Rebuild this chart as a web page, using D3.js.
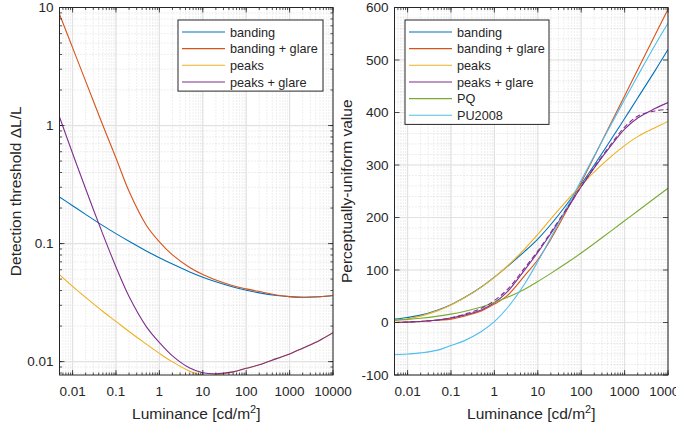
<!DOCTYPE html>
<html>
<head>
<meta charset="utf-8">
<script src="https://cdn.jsdelivr.net/npm/d3@7"></script>
<style>
  body { margin: 0; background: #fff; }
  svg text { font-family: "Liberation Sans", Arial, Helvetica, sans-serif; fill: #262626; }
</style>
</head>
<body>
<div id="chart"></div>
<script>
// Luminance samples [cd/m2] shared by every curve
const luminance = [0.005, 0.01, 0.02, 0.05, 0.1, 0.2, 0.5, 1, 2, 5, 10, 20, 50, 100, 200, 500, 1000, 2000, 5000, 10000];

// Left panel: detection threshold dL/L
const thrBanding      = [0.248, 0.2094, 0.1767, 0.1419, 0.1214, 0.1046, 0.0865, 0.0759, 0.067, 0.0575, 0.0519, 0.0474, 0.0428, 0.0403, 0.0382, 0.0363, 0.0355, 0.0351, 0.0354, 0.0363];
const thrBandingGlare = [8.77, 4.57, 2.38, 1.0, 0.531, 0.277, 0.143, 0.1035, 0.0802, 0.0627, 0.0546, 0.0491, 0.0439, 0.0413, 0.0392, 0.0367, 0.0355, 0.0351, 0.0354, 0.0363];
const thrPeaks        = [0.0546, 0.0434, 0.035, 0.0266, 0.0219, 0.018, 0.01406, 0.01175, 0.00995, 0.00828, 0.00762, 0.00772, 0.00818, 0.00877, 0.0094, 0.0106, 0.0116, 0.013, 0.0152, 0.0176];
const thrPeaksGlare   = [1.18, 0.582, 0.291, 0.1197, 0.0634, 0.0356, 0.0198, 0.0145, 0.01117, 0.00881, 0.00805, 0.00789, 0.00818, 0.00877, 0.0094, 0.0106, 0.0116, 0.013, 0.0152, 0.0176];

// Right panel: perceptually-uniform value
const puBanding       = [6.5, 9.5, 14, 24, 34, 47, 67.7, 86.4, 106.9, 135.6, 159, 186.7, 228.5, 263, 299.8, 350, 388.5, 427.6, 479.3, 520];
const puBandingGlare  = [0, 0.8, 2, 4.5, 6.5, 12, 22, 35, 51.6, 89.4, 119.5, 158.6, 218.3, 266.5, 316.2, 381.9, 431.6, 481.3, 547, 596.7];
const puPeaks         = [3.5, 7.1, 12.2, 22.6, 33.4, 46.6, 67.3, 86, 107.6, 140.2, 167.9, 197.4, 235.2, 260.8, 287, 317, 337, 354, 371, 383];
const puPeaksGlare    = [0, 0.8, 2, 4.8, 8.5, 14, 24, 37.5, 58.6, 100.4, 133.5, 169.6, 219.4, 258.5, 294.6, 338.4, 368.5, 389.6, 407.5, 419];
const puPeaksGlareFit = [0, 0.8, 2, 4.8, 9, 15.5, 27, 42, 63, 104, 136, 172, 221, 259, 296, 341, 372, 393, 403, 406];
const puPQ            = [4.5, 6, 8.1, 12.1, 16, 21.1, 29.5, 38, 48, 63.5, 78, 93.6, 115.1, 132.3, 150.4, 175.1, 193.7, 212.4, 237.1, 255.8];
const puPU2008        = [-61.5, -60, -57.8, -52.6, -44, -35, -17.1, 1.6, 28.1, 73.9, 116, 161.8, 223.9, 270.9, 317.5, 378.8, 424.6, 469.7, 528.2, 570];

// Tick values and labels
const xTicks = [0.01, 0.1, 1, 10, 100, 1000, 10000];
const xTickLabels = ['0.01', '0.1', '1', '10', '100', '1000', '10000'];
const yTicksLeft = [0.01, 0.1, 1, 10];
const yTickLabelsLeft = ['0.01', '0.1', '1', '10'];
const yTicksRight = [-100, 0, 100, 200, 300, 400, 500, 600];

// MATLAB default colours
const cBlue = '#0072BD', cRed = '#D95319', cYellow = '#EDB120', cPurple = '#7E2F8E', cGreen = '#77AC30', cCyan = '#4DBEEE';

const width = 676, height = 430;
const axisColor = '#262626';

const svg = d3.select('#chart').append('svg')
    .attr('width', width)
    .attr('height', height);

// log minor positions (1..9 per decade) inside a domain
function logMinor(domain) {
    const out = [];
    for (let e = Math.floor(Math.log10(domain[0])); e <= Math.ceil(Math.log10(domain[1])); e++) {
        for (let m = 1; m <= 9; m++) {
            const v = m * Math.pow(10, e);
            if (v >= domain[0] * 0.999 && v <= domain[1] * 1.001) out.push(v);
        }
    }
    return out;
}

function drawPanel(opt) {
    const g = svg.append('g');
    const x = d3.scaleLog().domain([0.005, 10000]).range([opt.x0, opt.x1]);
    const y = opt.logY
        ? d3.scaleLog().domain(opt.yDomain).range([opt.y1, opt.y0])
        : d3.scaleLinear().domain(opt.yDomain).range([opt.y1, opt.y0]);

    const xMinor = logMinor(x.domain());
    const yMinor = opt.logY ? logMinor(y.domain()) : d3.range(-100, 601, 20);

    // minor grid (dotted)
    g.selectAll('.xminor').data(xMinor).enter().append('line')
        .attr('x1', d => x(d)).attr('x2', d => x(d))
        .attr('y1', opt.y0).attr('y2', opt.y1)
        .attr('stroke', '#c8c8c8').attr('stroke-width', 0.6).attr('stroke-dasharray', '1,2');
    g.selectAll('.yminor').data(yMinor).enter().append('line')
        .attr('x1', opt.x0).attr('x2', opt.x1)
        .attr('y1', d => y(d)).attr('y2', d => y(d))
        .attr('stroke', '#c8c8c8').attr('stroke-width', 0.6).attr('stroke-dasharray', '1,2');

    // major grid
    g.selectAll('.xmajor').data(xTicks).enter().append('line')
        .attr('x1', d => x(d)).attr('x2', d => x(d))
        .attr('y1', opt.y0).attr('y2', opt.y1)
        .attr('stroke', '#e2e2e2').attr('stroke-width', 1.2);
    g.selectAll('.ymajor').data(opt.yTicks).enter().append('line')
        .attr('x1', opt.x0).attr('x2', opt.x1)
        .attr('y1', d => y(d)).attr('y2', d => y(d))
        .attr('stroke', '#e2e2e2').attr('stroke-width', 1.2);

    // curves, clipped to the axes box
    const clipId = 'clip' + opt.id;
    svg.append('clipPath').attr('id', clipId).append('rect')
        .attr('x', opt.x0).attr('y', opt.y0)
        .attr('width', opt.x1 - opt.x0).attr('height', opt.y1 - opt.y0);

    const line = d3.line()
        .x(d => x(d[0]))
        .y(d => y(d[1]))
        .curve(d3.curveCatmullRom.alpha(0.5));

    g.append('g').attr('clip-path', `url(#${clipId})`)
        .selectAll('path')
        .data(opt.series)
        .enter()
        .append('path')
        .attr('d', s => line(luminance.map((l, i) => [l, s.values[i]])))
        .attr('fill', 'none')
        .attr('stroke', s => s.color)
        .attr('stroke-width', 1.1)
        .attr('stroke-dasharray', s => s.dash || null);

    // box
    g.append('rect')
        .attr('x', opt.x0).attr('y', opt.y0)
        .attr('width', opt.x1 - opt.x0).attr('height', opt.y1 - opt.y0)
        .attr('fill', 'none').attr('stroke', axisColor).attr('stroke-width', 1);

    // inward ticks on all four sides
    const tickLen = 5, minorLen = 2.5;
    const xt = xTicks.map(v => ({ v, len: tickLen })).concat(xMinor.map(v => ({ v, len: minorLen })));
    const yt = opt.yTicks.map(v => ({ v, len: tickLen }))
        .concat(opt.logY ? yMinor.map(v => ({ v, len: minorLen })) : []);
    [opt.y1, opt.y0].forEach((yy, k) => {
        g.selectAll('.xt' + k).data(xt).enter().append('line')
            .attr('x1', d => x(d.v)).attr('x2', d => x(d.v))
            .attr('y1', yy).attr('y2', d => k === 0 ? yy - d.len : yy + d.len)
            .attr('stroke', axisColor).attr('stroke-width', 0.8);
    });
    [opt.x0, opt.x1].forEach((xx, k) => {
        g.selectAll('.yt' + k).data(yt).enter().append('line')
            .attr('y1', d => y(d.v)).attr('y2', d => y(d.v))
            .attr('x1', xx).attr('x2', d => k === 0 ? xx + d.len : xx - d.len)
            .attr('stroke', axisColor).attr('stroke-width', 0.8);
    });

    // tick labels
    g.selectAll('.xlab').data(xTicks).enter().append('text')
        .attr('x', d => x(d)).attr('y', opt.y1 + 21)
        .attr('text-anchor', 'middle')
        .style('font-size', '13.5px')
        .text((d, i) => xTickLabels[i]);
    g.selectAll('.ylab').data(opt.yTicks).enter().append('text')
        .attr('x', opt.x0 - 6).attr('y', d => y(d))
        .attr('dy', '0.36em')
        .attr('text-anchor', 'end')
        .style('font-size', '13.5px')
        .text((d, i) => opt.yTickLabels[i]);

    // axis labels
    const xl = g.append('text')
        .attr('x', (opt.x0 + opt.x1) / 2).attr('y', 419)
        .attr('text-anchor', 'middle')
        .style('font-size', '15.5px');
    xl.append('tspan').text('Luminance [cd/m');
    xl.append('tspan').text('2').attr('dy', -6).style('font-size', '11px');
    xl.append('tspan').text(']').attr('dy', 6);

    g.append('text')
        .attr('transform', `translate(${opt.yLabelX},${(opt.y0 + opt.y1) / 2}) rotate(-90)`)
        .attr('text-anchor', 'middle')
        .style('font-size', '15.5px')
        .text(opt.yLabel);

    // legend
    const lg = g.append('g').attr('transform', `translate(${opt.legend.x},${opt.legend.y})`);
    const legendSeries = opt.series.filter(s => s.name);
    lg.append('rect')
        .attr('width', opt.legend.w)
        .attr('height', legendSeries.length * 16.65 + 4.5)
        .attr('fill', '#fff').attr('stroke', axisColor).attr('stroke-width', 1);
    const row = lg.selectAll('.row').data(legendSeries).enter().append('g')
        .attr('transform', (d, i) => `translate(0,${12 + i * 16.65})`);
    row.append('line')
        .attr('x1', 4).attr('x2', 47)
        .attr('stroke', d => d.color).attr('stroke-width', 1.1);
    row.append('text')
        .attr('x', 52).attr('dy', '0.36em')
        .style('font-size', '12.7px')
        .text(d => d.name);
}

drawPanel({
    id: 'L', x0: 59.5, x1: 333, y0: 7.5, y1: 375,
    logY: true, yDomain: [0.0077, 10],
    yTicks: yTicksLeft, yTickLabels: yTickLabelsLeft,
    yLabel: 'Detection threshold \u0394L/L', yLabelX: 20.5,
    legend: { x: 178, y: 20, w: 145 },
    series: [
        { name: 'banding', color: cBlue, values: thrBanding },
        { name: 'banding + glare', color: cRed, values: thrBandingGlare },
        { name: 'peaks', color: cYellow, values: thrPeaks },
        { name: 'peaks + glare', color: cPurple, values: thrPeaksGlare }
    ]
});

drawPanel({
    id: 'R', x0: 394.5, x1: 668, y0: 7.5, y1: 375,
    logY: false, yDomain: [-100, 600],
    yTicks: yTicksRight, yTickLabels: yTicksRight.map(String),
    yLabel: 'Perceptually-uniform value', yLabelX: 351.5,
    legend: { x: 405, y: 20, w: 144 },
    series: [
        { name: 'banding', color: cBlue, values: puBanding },
        { name: 'banding + glare', color: cRed, values: puBandingGlare },
        { name: 'peaks', color: cYellow, values: puPeaks },
        { name: 'peaks + glare', color: cPurple, values: puPeaksGlare },
        { name: 'PQ', color: cGreen, values: puPQ },
        { name: 'PU2008', color: cCyan, values: puPU2008 },
        { name: null, color: cPurple, values: puPeaksGlareFit, dash: '5,3' }
    ]
});
</script>
</body>
</html>
